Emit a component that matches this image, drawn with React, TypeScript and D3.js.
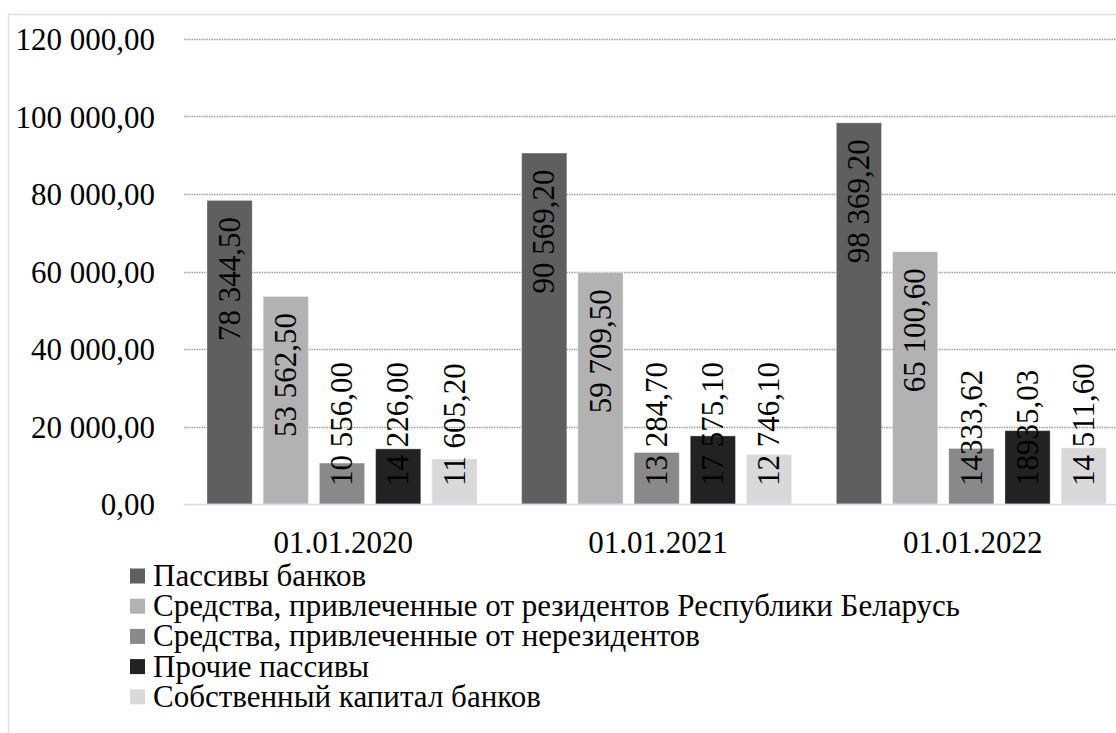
import React from "react";
import * as d3 from "d3";

const categories = ["01.01.2020", "01.01.2021", "01.01.2022"];
const seriesNames = [
  "Пассивы банков",
  "Средства, привлеченные от резидентов Республики Беларусь",
  "Средства, привлеченные от нерезидентов",
  "Прочие пассивы",
  "Собственный капитал банков",
];
const seriesColors = ["#5f5f5f", "#b2b2b2", "#898989", "#222222", "#d9d9d9"];

const passivy = [78344.5, 90569.2, 98369.2];
const rezidenty = [53562.5, 59709.5, 65100.6];
const nerezidenty = [10556.0, 13284.7, 14333.62];
const prochie = [14226.0, 17575.1, 18935.03];
const kapital = [11605.2, 12746.1, 14511.6];

const passivyLabels = ["78 344,50", "90 569,20", "98 369,20"];
const rezidentyLabels = ["53 562,50", "59 709,50", "65 100,60"];
const nerezidentyLabels = ["10 556,00", "13 284,70", "14333,62"];
const prochieLabels = ["14 226,00", "17 575,10", "18935,03"];
const kapitalLabels = ["11 605,20", "12 746,10", "14 511,60"];

const yTicks = [0, 20000, 40000, 60000, 80000, 100000, 120000];
const yTickLabels = ["0,00", "20 000,00", "40 000,00", "60 000,00", "80 000,00", "100 000,00", "120 000,00"];

const seriesValues = [passivy, rezidenty, nerezidenty, prochie, kapital];
const seriesLabels = [passivyLabels, rezidentyLabels, nerezidentyLabels, prochieLabels, kapitalLabels];

const FS = 31;

function textLen(s: string, fs: number) {
  let w = 0;
  for (const ch of s) {
    if (ch === " " || ch === "," || ch === ".") w += 0.25;
    else w += 0.5;
  }
  return w * fs;
}

const css = `svg.chart, svg.chart text { font-family: "Liberation Serif" !important; }`;

export default function App() {
  const W = 1116;
  const H = 733;
  const y = d3.scaleLinear().domain([0, 120000]).range([504, 39]);
  const x = d3.scaleBand<string>().domain(categories).range([185, 1129]).padding(0);
  const xs = d3
    .scaleBand<number>()
    .domain(d3.range(seriesNames.length))
    .range([22, 292])
    .paddingInner(0.196)
    .paddingOuter(0);
  const base = y(0);

  return (
    <svg
      className="chart"
      width={W}
      height={H}
      style={{ position: "absolute", left: 0, top: 0, background: "#fff" }}
    >
      <style>{css}</style>
      <rect x={8.5} y={14.5} width={1200} height={800} fill="#fff" stroke="#d6e1f1" strokeWidth={1.5} />
      {yTicks.slice(1).map((t) => (
        <line
          key={t}
          x1={184}
          x2={W}
          y1={Math.round(y(t)) + 0.5}
          y2={Math.round(y(t)) + 0.5}
          stroke="#9f9f9f"
          strokeWidth={1.3}
          strokeDasharray="1.5 1"
        />
      ))}
      {yTicks.map((t, i) => (
        <text key={t} x={155} y={y(t) + 11} textAnchor="end" fontSize={FS} fill="#000">
          {yTickLabels[i]}
        </text>
      ))}
      {categories.map((c, ci) => (
        <g key={c}>
          {seriesValues.map((vals, si) => {
            const bx = (x(c) as number) + (xs(si) as number);
            const bw = xs.bandwidth();
            const top = y(vals[ci]);
            return (
              <rect
                key={si}
                x={bx}
                y={top}
                width={bw}
                height={base - top}
                fill={seriesColors[si]}
                stroke="rgba(255,255,255,0.35)"
                strokeWidth={1}
              />
            );
          })}
          {seriesValues.map((vals, si) => {
            const bx = (x(c) as number) + (xs(si) as number);
            const cx = bx + xs.bandwidth() / 2;
            const top = y(vals[ci]);
            const lbl = seriesLabels[si][ci];
            const len = textLen(lbl, FS);
            const bottom = Math.min(top + 16.5 + len, base - 18);
            const tx = cx + 0.33 * FS;
            return (
              <text
                key={"l" + si}
                transform={`translate(${tx},${bottom}) rotate(-90)`}
                fontSize={FS}
                fill="#000"
                textAnchor="start"
              >
                {lbl}
              </text>
            );
          })}
          <text x={(x(c) as number) + x.bandwidth() / 2 + 1} y={553} textAnchor="middle" fontSize={FS} fill="#000">
            {c}
          </text>
        </g>
      ))}
      <line x1={184} x2={W} y1={base + 0.5} y2={base + 0.5} stroke="#d0dcee" strokeWidth={1.5} />
      {seriesNames.map((s, i) => {
        const cy = 576 + i * 30.2;
        return (
          <g key={s}>
            <rect x={130} y={cy - 7.5} width={15} height={15} fill={seriesColors[i]} />
            <text x={153} y={cy + 10} fontSize={FS} fill="#000">
              {s}
            </text>
          </g>
        );
      })}
    </svg>
  );
}
